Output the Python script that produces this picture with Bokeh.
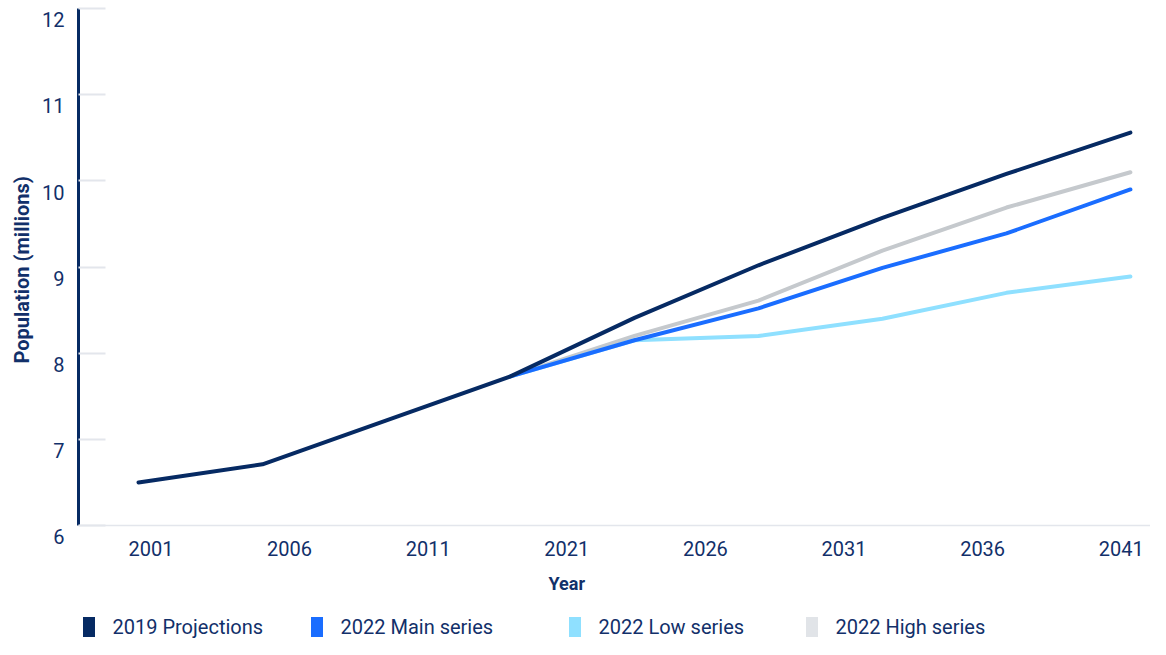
from bokeh.plotting import figure
from bokeh.models import Range1d, FixedTicker, Legend, LegendItem, LinearAxis, Span, Title
from bokeh.core.properties import value
from bokeh.embed import file_html
from bokeh.resources import INLINE

# ---- data ----
years = [2001, 2006, 2011, 2016, 2021, 2026, 2031, 2036, 2041]
proj_2019 = [6.50, 6.71, 7.22, 7.73, 8.41, 9.02, 9.57, 10.08, 10.56]

proj_years = [2016, 2021, 2026, 2031, 2036, 2041]
main_2022 = [7.73, 8.15, 8.52, 8.99, 9.39, 9.90]
low_2022 = [7.73, 8.15, 8.20, 8.40, 8.70, 8.89]
high_2022 = [7.73, 8.20, 8.61, 9.19, 9.69, 10.10]

tick_labels = ["2001", "2006", "2011", "2021", "2026", "2031", "2036", "2041"]
y_ticks = [6, 7, 8, 9, 10, 11, 12]
series_names = ["2019 Projections", "2022 Main series", "2022 Low series", "2022 High series"]

# ---- styles / layout ----
NAVY_TXT = "#12306a"
C_2019 = "#062a63"
C_MAIN = "#1a6dff"
C_LOW = "#8fe0ff"
C_HIGH = "#c5c9cd"
C_HIGH_LEG = "#e1e4e8"
GRID = "#e3e6ec"
FONT = "Roboto"

W, H = 1150, 639
TOP, LEFT = 8, 78
PLOT_BOTTOM_PX = 525          # where the value axis ends (y = 6)
px_per_unit = (PLOT_BOTTOM_PX - TOP) / (y_ticks[-1] - y_ticks[0])
y_low = y_ticks[0] - (H - PLOT_BOTTOM_PX) / px_per_unit   # frame extends down to hold the legend

tick_start, tick_step = 2001.5, 5.59
tick_pos = [round(tick_start + i * tick_step, 2) for i in range(len(tick_labels))]
label_shift = 0.13  # y labels sit a little below their tick marks
lab_pos = [round(v - label_shift, 3) for v in y_ticks]

p = figure(width=W, height=H, output_backend="svg", toolbar_location=None,
           x_range=Range1d(1998.58, 2041.81), y_range=Range1d(y_low, y_ticks[-1]),
           min_border_left=LEFT, min_border_right=0, min_border_top=TOP,
           min_border_bottom=0)
p.outline_line_color = None
p.xgrid.visible = False
p.ygrid.visible = False
p.xaxis.visible = False

# baseline of the chart
p.add_layout(Span(location=y_ticks[0], dimension="width", line_color=GRID, line_width=1.5))

# lines
kw = dict(line_width=4, line_cap="round", line_join="round")
p.line(proj_years, high_2022, line_color=C_HIGH, **kw)
p.line(proj_years, low_2022, line_color=C_LOW, **kw)
p.line(proj_years, main_2022, line_color=C_MAIN, **kw)
p.line(years, proj_2019, line_color=C_2019, **kw)

# y axis: line + inward tick marks (labels on a second axis)
ya = p.yaxis[0]
ya.ticker = FixedTicker(ticks=y_ticks)
ya.bounds = (y_ticks[0], y_ticks[-1])
ya.axis_line_color = C_2019
ya.axis_line_width = 3
ya.major_tick_in = 27
ya.major_tick_out = 0
ya.major_tick_line_color = GRID
ya.major_tick_line_width = 2
ya.minor_tick_line_color = None
ya.major_label_overrides = {v: "" for v in y_ticks}
ya.major_label_standoff = 0

la = LinearAxis(ticker=FixedTicker(ticks=lab_pos),
                major_label_overrides={t: str(v) for t, v in zip(lab_pos, y_ticks)},
                bounds=(lab_pos[0] - 0.01, y_ticks[-1]))
la.axis_line_color = None
la.major_tick_line_color = None
la.minor_tick_line_color = None
la.major_tick_out = 0
la.major_tick_in = 0
la.major_label_text_font = FONT
la.major_label_text_font_size = "20px"
la.major_label_text_color = NAVY_TXT
la.major_label_standoff = 14
p.add_layout(la, "left")

# y axis title, centred on the value span (6..12) rather than the whole frame
p.add_layout(Title(text="Population (millions)", align="left", offset=H - PLOT_BOTTOM_PX + 162,
                   text_font=FONT, text_font_style="bold", text_font_size="20px",
                   text_color=NAVY_TXT, standoff=12), "left")

# x tick labels and title
p.text(x=tick_pos, y=[y_ticks[0]] * len(tick_pos), text=tick_labels, y_offset=23,
       text_align="center", text_baseline="middle", text_font=value(FONT),
       text_font_size="20px", text_color=NAVY_TXT)
p.text(x=[tick_pos[3]], y=[y_ticks[0]], text=["Year"], y_offset=58,
       text_align="center", text_baseline="middle", text_font=value(FONT),
       text_font_style="bold", text_font_size="18px", text_color=NAVY_TXT)

# legend: one small legend per entry
leg_x = [2.5, 230.5, 488.5, 725.5]
for name, col, lx in zip(series_names, [C_2019, C_MAIN, C_LOW, C_HIGH_LEG], leg_x):
    r = p.rect(x=[float("nan")], y=[float("nan")], width=1, height=1,
               fill_color=col, line_color=None)
    leg = Legend(items=[LegendItem(label=name, renderers=[r])], location=(lx, 0),
                 orientation="horizontal", glyph_width=15, glyph_height=25,
                 label_standoff=17, padding=0, margin=0, border_line_color=None,
                 background_fill_alpha=0, label_text_font=FONT,
                 label_text_font_size="20px", label_text_color=NAVY_TXT)
    p.add_layout(leg)

open("out.html", "w").write(file_html(p, INLINE))
